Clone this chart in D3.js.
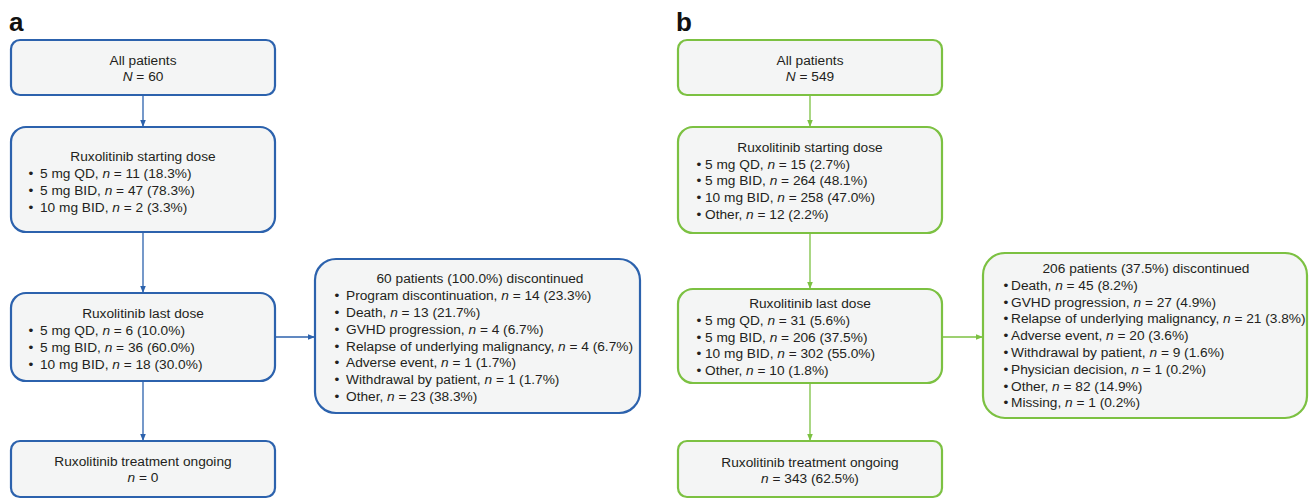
<!DOCTYPE html>
<html>
<head>
<meta charset="utf-8">
<script src="https://cdn.jsdelivr.net/npm/d3@7/dist/d3.min.js"></script>
<style>
  html, body { margin: 0; padding: 0; background: #fff; }
  svg text { font-family: "Liberation Sans", Arial, Helvetica, sans-serif; fill: #231f20; }
</style>
</head>
<body>
<svg id="chart" width="1309" height="500"></svg>
<script>
// ---- Panel a: patient flow (blue) ----
const totalA = 60;
const startDoseA = [["5 mg QD", 11, "18.3%"], ["5 mg BID", 47, "78.3%"], ["10 mg BID", 2, "3.3%"]];
const lastDoseA = [["5 mg QD", 6, "10.0%"], ["5 mg BID", 36, "60.0%"], ["10 mg BID", 18, "30.0%"]];
const ongoingA = [0, null];
const discontinuedA = [60, "100.0%"];
const reasonsA = [
  ["Program discontinuation", 14, "23.3%"],
  ["Death", 13, "21.7%"],
  ["GVHD progression", 4, "6.7%"],
  ["Relapse of underlying malignancy", 4, "6.7%"],
  ["Adverse event", 1, "1.7%"],
  ["Withdrawal by patient", 1, "1.7%"],
  ["Other", 23, "38.3%"]
];

// ---- Panel b: patient flow (green) ----
const totalB = 549;
const startDoseB = [["5 mg QD", 15, "2.7%"], ["5 mg BID", 264, "48.1%"], ["10 mg BID", 258, "47.0%"], ["Other", 12, "2.2%"]];
const lastDoseB = [["5 mg QD", 31, "5.6%"], ["5 mg BID", 206, "37.5%"], ["10 mg BID", 302, "55.0%"], ["Other", 10, "1.8%"]];
const ongoingB = [343, "62.5%"];
const discontinuedB = [206, "37.5%"];
const reasonsB = [
  ["Death", 45, "8.2%"],
  ["GVHD progression", 27, "4.9%"],
  ["Relapse of underlying malignancy", 21, "3.8%"],
  ["Adverse event", 20, "3.6%"],
  ["Withdrawal by patient", 9, "1.6%"],
  ["Physician decision", 1, "0.2%"],
  ["Other", 82, "14.9%"],
  ["Missing", 1, "0.2%"]
];

const svg = d3.select("#chart");
const FS = 13.7;

const defs = svg.append("defs");
function marker(id, color) {
  defs.append("marker")
    .attr("id", id).attr("viewBox", "0 0 10 10")
    .attr("refX", 10).attr("refY", 5)
    .attr("markerWidth", 7).attr("markerHeight", 7)
    .attr("markerUnits", "userSpaceOnUse")
    .attr("orient", "auto")
    .append("path").attr("d", "M0,1L10,5L0,9Z").attr("fill", color);
}

// "label, n = 11 (18.3%)" with italic n
function itemParts(label, n, pct, sym) {
  const parts = [];
  if (label) parts.push({ t: label + ", ", i: false });
  parts.push({ t: sym || "n", i: true });
  parts.push({ t: " = " + n + (pct ? " (" + pct + ")" : ""), i: false });
  return parts;
}

function writeLine(g, x, y, parts, anchor) {
  const t = g.append("text")
    .attr("x", x).attr("y", y)
    .attr("dy", "0.36em")
    .attr("text-anchor", anchor)
    .style("font-size", FS + "px");
  parts.forEach(p => {
    t.append("tspan").text(p.t).style("font-style", p.i ? "italic" : "normal");
  });
  return t;
}

function drawPanel(cfg) {
  const g = svg.append("g");
  const color = cfg.color;
  marker(cfg.id, color);

  g.append("text").attr("x", cfg.labelX).attr("y", 31)
    .style("font-size", "26px").style("font-weight", "bold")
    .style("fill", "#111").text(cfg.letter);

  // connectors
  cfg.arrows.forEach(a => {
    g.append("line")
      .attr("x1", a[0]).attr("y1", a[1]).attr("x2", a[2]).attr("y2", a[3])
      .attr("stroke", color).attr("stroke-width", 1.3)
      .attr("marker-end", `url(#${cfg.id})`);
  });

  cfg.boxes.forEach(b => {
    g.append("rect")
      .attr("x", b.x).attr("y", b.y).attr("width", b.w).attr("height", b.h)
      .attr("rx", b.r).attr("ry", b.r)
      .attr("fill", "#f4f5f5").attr("stroke", color).attr("stroke-width", 2.2);
    const cx = b.cx !== undefined ? b.cx : b.x + b.w / 2;
    b.center.forEach((parts, i) => {
      writeLine(g, cx, b.top + i * b.step, parts, "middle");
    });
    (b.bullets || []).forEach((parts, i) => {
      const y = b.top + (b.center.length + i) * b.step;
      g.append("text").attr("x", b.bx).attr("y", y).attr("dy", "0.36em")
        .attr("text-anchor", "middle")
        .style("font-size", FS + "px").text("\u2022");
      writeLine(g, b.tx, y, parts, "start");
    });
  });
}

const asParts = rows => rows.map(r => itemParts(r[0], r[1], r[2]));

drawPanel({
  id: "arrowA", color: "#2c62ad", letter: "a", labelX: 9,
  arrows: [[143, 95, 143, 127], [143, 232, 143, 293], [143, 381, 143, 441], [275, 337, 315, 337]],
  boxes: [
    { x: 11, y: 40, w: 264, h: 55, r: 9, top: 60, step: 16.5,
      center: [[{ t: "All patients", i: false }], itemParts(null, totalA, null, "N")] },
    { x: 11, y: 127, w: 264, h: 105, r: 15, top: 156, step: 17, bx: 31, tx: 40,
      center: [[{ t: "Ruxolitinib starting dose", i: false }]], bullets: asParts(startDoseA) },
    { x: 11, y: 293, w: 264, h: 88, r: 15, top: 313, step: 17, bx: 31, tx: 40,
      center: [[{ t: "Ruxolitinib last dose", i: false }]], bullets: asParts(lastDoseA) },
    { x: 11, y: 441, w: 264, h: 56, r: 9, top: 461, step: 16.5,
      center: [[{ t: "Ruxolitinib treatment ongoing", i: false }], itemParts(null, ongoingA[0], ongoingA[1])] },
    { x: 315, y: 259, w: 325, h: 154, r: 21, cx: 480, top: 278, step: 16.9, bx: 337, tx: 346,
      center: [[{ t: `${discontinuedA[0]} patients (${discontinuedA[1]}) discontinued`, i: false }]],
      bullets: asParts(reasonsA) }
  ]
});

drawPanel({
  id: "arrowB", color: "#7cc142", letter: "b", labelX: 676,
  arrows: [[810, 95, 810, 127], [810, 233, 810, 289], [810, 383, 810, 441], [942, 337, 983, 337]],
  boxes: [
    { x: 678, y: 40, w: 264, h: 55, r: 9, top: 60, step: 16.5,
      center: [[{ t: "All patients", i: false }], itemParts(null, totalB, null, "N")] },
    { x: 678, y: 127, w: 264, h: 106, r: 15, top: 147, step: 16.7, bx: 699, tx: 705,
      center: [[{ t: "Ruxolitinib starting dose", i: false }]], bullets: asParts(startDoseB) },
    { x: 678, y: 289, w: 264, h: 94, r: 15, top: 303, step: 16.8, bx: 699, tx: 705,
      center: [[{ t: "Ruxolitinib last dose", i: false }]], bullets: asParts(lastDoseB) },
    { x: 678, y: 441, w: 264, h: 56, r: 9, top: 462, step: 16.5,
      center: [[{ t: "Ruxolitinib treatment ongoing", i: false }], itemParts(null, ongoingB[0], ongoingB[1])] },
    { x: 983, y: 253, w: 324, h: 165, r: 22, cx: 1146, top: 268, step: 16.8, bx: 1006, tx: 1011,
      center: [[{ t: `${discontinuedB[0]} patients (${discontinuedB[1]}) discontinued`, i: false }]],
      bullets: asParts(reasonsB) }
  ]
});
</script>
</body>
</html>
